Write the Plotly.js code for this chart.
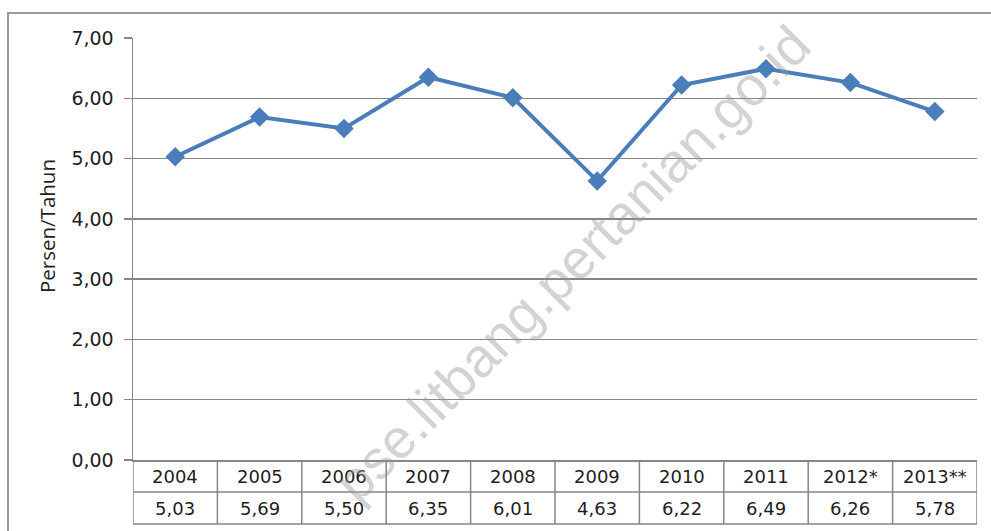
<!DOCTYPE html>
<html>
<head>
<meta charset="utf-8">
<script src="https://cdn.plot.ly/plotly-3.0.1.min.js"></script>
<style>
  html, body { margin: 0; padding: 0; background: #fff; }
  #chart { width: 991px; height: 531px; }
</style>
</head>
<body>
<div id="chart"></div>
<script>
// ---- data ----
const years = ['2004', '2005', '2006', '2007', '2008', '2009', '2010', '2011', '2012*', '2013**'];
const values = [5.03, 5.69, 5.50, 6.35, 6.01, 4.63, 6.22, 6.49, 6.26, 5.78];
const yTickValues = [0, 1, 2, 3, 4, 5, 6, 7];
const yAxisTitle = 'Persen/Tahun';
const watermarkText = 'pse.litbang.pertanian.go.id';

// ---- layout constants ----
const W = 991, H = 531;
const M = { l: 133, r: 14, t: 38, b: 71 };
const plotH = H - M.t - M.b;   // 422
const plotW = W - M.l - M.r;   // 844
const rowH = 32;
const gray = '#868686';
const textColor = '#1e1e1e';
const font = 'DejaVu Sans, Verdana, sans-serif';

const fmt = v => v.toFixed(2).replace('.', ',');
const py = px => (H - M.b - px) / plotH;       // pixel y -> paper y
const pxX = px => (px - M.l) / plotW;           // pixel x -> paper x

const n = years.length;
const shapes = [];
const annotations = [];

// outer border (left and top visible)
shapes.push({
  type: 'rect', xref: 'paper', yref: 'paper',
  x0: pxX(8), x1: pxX(W + 10), y0: py(H + 10), y1: py(13),
  line: { color: '#9a9a9a', width: 2 }, fillcolor: 'rgba(0,0,0,0)', layer: 'below'
});

// data table grid
const row1 = -rowH / plotH, row2 = -2 * rowH / plotH;
for (let i = 0; i <= n; i++) {
  shapes.push({
    type: 'line', xref: 'x', yref: 'paper',
    x0: i - 0.5, x1: i - 0.5, y0: 0, y1: row2,
    line: { color: gray, width: 1.5 }
  });
}
[row1, row2].forEach(yv => shapes.push({
  type: 'line', xref: 'x', yref: 'paper',
  x0: -0.5, x1: n - 0.5, y0: yv, y1: yv,
  line: { color: gray, width: 1.5 }
}));

// table texts
years.forEach((yr, i) => {
  annotations.push({
    xref: 'x', yref: 'paper', x: i, y: row1 / 2, text: yr, showarrow: false,
    xanchor: 'center', yanchor: 'middle',
    font: { family: font, size: 18, color: textColor }
  });
  annotations.push({
    xref: 'x', yref: 'paper', x: i, y: (row1 + row2) / 2, text: fmt(values[i]), showarrow: false,
    xanchor: 'center', yanchor: 'middle',
    font: { family: font, size: 18, color: textColor }
  });
});

// y-axis title
annotations.push({
  xref: 'paper', yref: 'paper', x: pxX(47), y: py(226), text: yAxisTitle,
  textangle: -90, showarrow: false, xanchor: 'center', yanchor: 'middle',
  font: { family: 'Open Sans, DejaVu Sans, sans-serif', size: 20.5, color: textColor }
});

// watermark
annotations.push({
  xref: 'paper', yref: 'paper', x: pxX(572), y: py(264), text: watermarkText,
  textangle: -45, showarrow: false, xanchor: 'center', yanchor: 'middle',
  font: { family: 'Liberation Sans, Arial, sans-serif', size: 55, color: 'rgba(150,150,150,0.42)' }
});

const trace = {
  type: 'scatter', mode: 'lines+markers',
  x: years, y: values,
  line: { color: '#4a7ebb', width: 4 },
  marker: { symbol: 'diamond', size: 15, color: '#4a7ebb' },
  hoverinfo: 'skip', cliponaxis: false
};

const layout = {
  width: W, height: H,
  margin: M,
  paper_bgcolor: '#ffffff', plot_bgcolor: '#ffffff',
  separators: ',.',
  showlegend: false,
  xaxis: {
    type: 'category', range: [-0.5, n - 0.5],
    showticklabels: false, ticks: '', showgrid: false, zeroline: false,
    showline: true, linecolor: gray, linewidth: 1.5, fixedrange: true
  },
  yaxis: {
    range: [0, 7], tickvals: yTickValues, tickformat: '.2f',
    showgrid: true, gridcolor: gray, gridwidth: 1.5,
    zeroline: false, showline: true, linecolor: gray, linewidth: 1.5,
    ticks: 'outside', ticklen: 8, tickcolor: gray, tickwidth: 1.5,
    ticklabelstandoff: 6,
    tickfont: { family: font, size: 19, color: textColor },
    fixedrange: true
  },
  shapes: shapes,
  annotations: annotations
};

Plotly.newPlot('chart', [trace], layout, { displayModeBar: false, staticPlot: true });
</script>
</body>
</html>
